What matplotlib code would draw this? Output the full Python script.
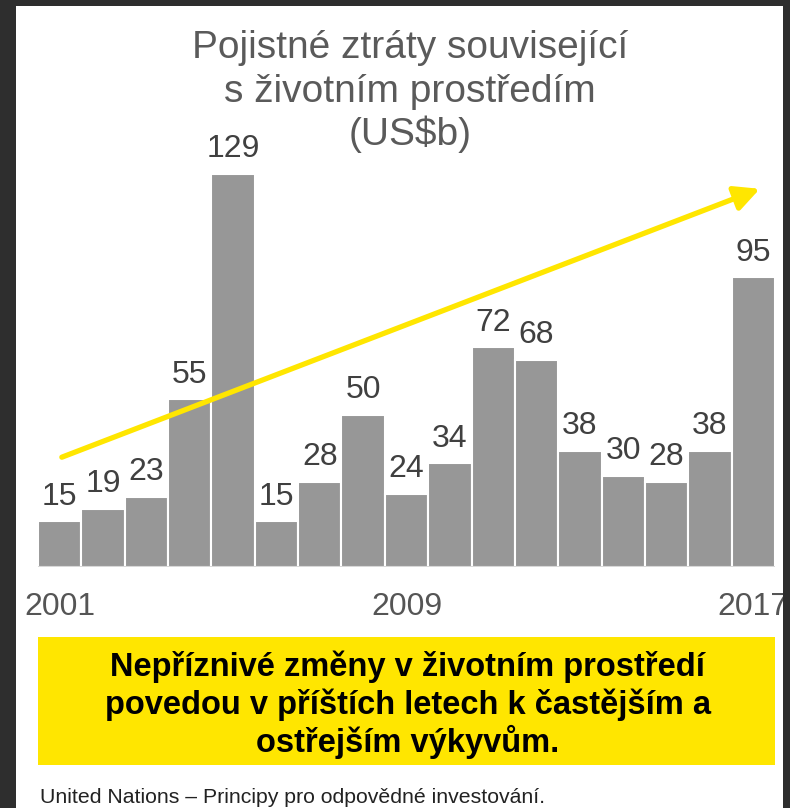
import matplotlib
matplotlib.use("Agg")
import matplotlib.pyplot as plt
from matplotlib.patches import Rectangle

plt.rcParams['font.family'] = ['Liberation Sans', 'DejaVu Sans']

years = list(range(2001, 2018))
losses = [15, 19, 23, 55, 129, 15, 28, 50, 24, 34, 72, 68, 38, 30, 28, 38, 95]
tick_years = [2001, 2009, 2017]

title_lines = ["Pojistné ztráty související", "s životním prostředím", "(US$b)"]
message_lines = ["Nepříznivé změny v životním prostředí",
                 "povedou v příštích letech k častějším a",
                 "ostřejším výkyvům."]
source = "United Nations – Principy pro odpovědné investování."

W, H = 790, 808
fig = plt.figure(figsize=(W / 100, H / 100), dpi=100)
fig.patch.set_facecolor('#2e2e2e')

# white panel
fig.patches.append(Rectangle((16 / W, 0), (783 - 16) / W, (H - 6) / H,
                             transform=fig.transFigure, facecolor='white',
                             edgecolor='none', zorder=-1))

ax = fig.add_axes([38 / W, (H - 567) / H, (775 - 38) / W, 427 / H])
ax.set_facecolor('none')
x = list(range(len(years)))
ax.bar(x, losses, width=1.0, color='#979797', edgecolor='white', linewidth=1.5)
ax.set_xlim(-0.5, len(years) - 0.5)
ax.set_ylim(0, 140)
ax.axhline(0, color='#d4d4d4', linewidth=2)
for xi, v in zip(x, losses):
    ax.annotate(str(v), (xi, v), xytext=(0, 12), textcoords='offset points',
                ha='center', va='baseline', fontsize=23, color='#404040',
                annotation_clip=False)

ax.annotate('', xy=(16.15, 124), xytext=(0.05, 36),
            arrowprops=dict(arrowstyle='-|>,head_length=1.5,head_width=0.75',
                            color='#ffe600', lw=3.8, shrinkA=0, shrinkB=0),
            annotation_clip=False)

ax.set_xticks([years.index(y) for y in tick_years])
ax.set_xticklabels([str(y) for y in tick_years], fontsize=23, color='#555555')
ax.tick_params(axis='x', length=0, pad=18)
ax.set_yticks([])
for s in ax.spines.values():
    s.set_visible(False)

for line, base in zip(title_lines, [58, 102, 145]):
    fig.text(0.519, 1 - base / H, line, ha='center', va='baseline', fontsize=28,
             color='#5a5a5a')

fig.patches.append(Rectangle((38 / W, (H - 765) / H), (775 - 38) / W, 128 / H,
                             transform=fig.transFigure, facecolor='#ffe600',
                             edgecolor='none'))
for line, base in zip(message_lines, [676, 714, 752]):
    fig.text(0.516, 1 - base / H, line, ha='center', va='baseline', fontsize=23.5,
             fontweight='bold', color='black')

fig.text(40 / W, (H - 803) / H, source, ha='left', va='baseline', fontsize=15.3,
         color='#222222')

# dark frame on the right edge, drawn over everything
fig.patches.append(Rectangle((783 / W, 0), 7 / W, 1, transform=fig.transFigure,
                             facecolor='#2e2e2e', edgecolor='none', zorder=10))

fig.savefig('out.png', dpi=100, facecolor=fig.get_facecolor())
